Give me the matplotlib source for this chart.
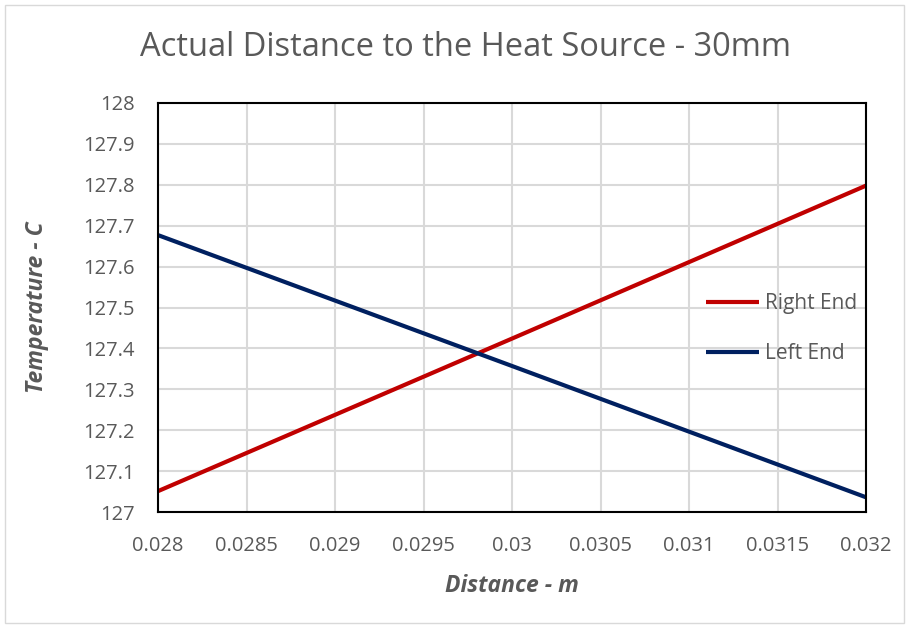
import matplotlib.pyplot as plt
from matplotlib.patches import Rectangle

# Data
distance = [0.028, 0.030, 0.032]
right_end = [127.051, 127.424, 127.798]
left_end = [127.677, 127.357, 127.036]

x_ticks = [0.028, 0.0285, 0.029, 0.0295, 0.030, 0.0305, 0.031, 0.0315, 0.032]
y_ticks = [127.0, 127.1, 127.2, 127.3, 127.4, 127.5, 127.6, 127.7, 127.8, 127.9, 128.0]

plt.rcParams["font.family"] = ["Open Sans", "DejaVu Sans"]
gray = "#595959"

fig = plt.figure(figsize=(9.09, 6.28), dpi=100)
ax = fig.add_axes([158 / 909, 1 - 512 / 628, (866 - 158) / 909, (512 - 103) / 628])

# outer chart border
fig.patches.append(Rectangle((5 / 909, 5 / 628), 899 / 909, 618 / 628,
                             transform=fig.transFigure, fill=False,
                             edgecolor="#d9d9d9", linewidth=1))

ax.plot(distance, right_end, color="#C00000", linewidth=3, label="Right End",
        solid_capstyle="butt")
ax.plot(distance, left_end, color="#002060", linewidth=3, label="Left End",
        solid_capstyle="butt")

ax.set_xlim(0.028, 0.032)
ax.set_ylim(127, 128)
ax.set_xticks(x_ticks)
ax.set_yticks(y_ticks)
ax.set_xticklabels(["{:g}".format(v) for v in x_ticks])
ax.set_yticklabels(["{:g}".format(v) for v in y_ticks])
ax.tick_params(length=0, labelsize=14.5, colors=gray)
ax.tick_params(axis="x", pad=17)
ax.tick_params(axis="y", pad=17)
ax.grid(True, color="#d9d9d9", linewidth=1.5)
ax.set_axisbelow(True)
for s in ax.spines.values():
    s.set_color("black")
    s.set_linewidth(1.5)

ax.set_xlabel("Distance - m", fontsize=16.5, fontweight="bold", style="italic",
              color=gray, labelpad=13)
ax.set_ylabel("Temperature - C", fontsize=16.5, fontweight="bold", style="italic",
              color=gray, labelpad=24)
fig.text(465 / 909, 1 - 48 / 628, "Actual Distance to the Heat Source - 30mm",
         ha="center", va="center", fontsize=23.5, color=gray)

leg = ax.legend(loc="center left", bbox_to_anchor=(0.747, 0.448), frameon=False,
                fontsize=15, handlelength=2.55, labelspacing=1.4, handletextpad=0.3)
for t in leg.get_texts():
    t.set_color(gray)

plt.savefig("out.png", dpi=100)
